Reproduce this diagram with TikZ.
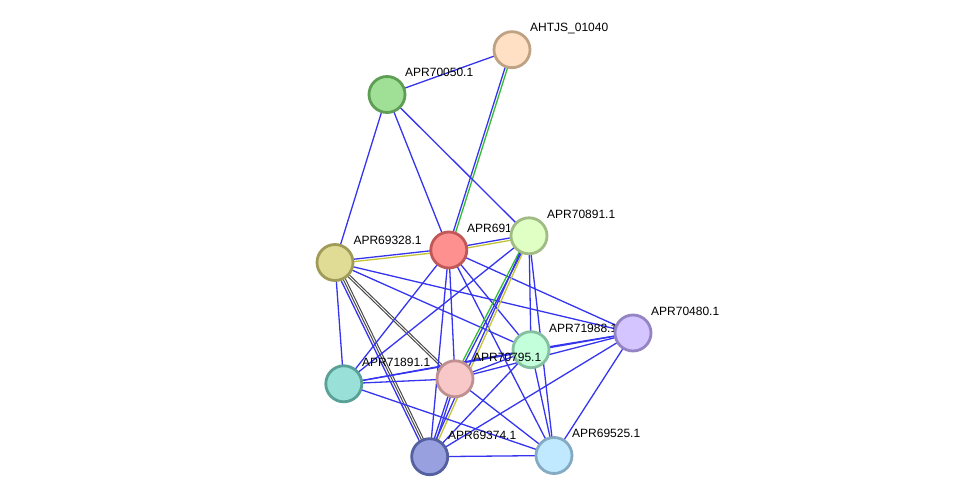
\documentclass[tikz,border=0pt]{standalone}
\usepackage{fontspec}
\setmainfont{Liberation Sans}
\usetikzlibrary{calc}
\definecolor{eblue}{HTML}{3535F0}
\definecolor{egreen}{HTML}{33BB33}
\definecolor{eyellow}{HTML}{C4C434}
\definecolor{edark}{HTML}{4A4A4A}
\definecolor{f70050}{HTML}{A0E096}\definecolor{b70050}{HTML}{5E9E54}
\definecolor{fAHTJS}{HTML}{FFE0C4}\definecolor{bAHTJS}{HTML}{BFA284}
\definecolor{f69328}{HTML}{E0DC96}\definecolor{b69328}{HTML}{A09C58}
\definecolor{f691}{HTML}{FF9090}\definecolor{b691}{HTML}{C05858}
\definecolor{f70891}{HTML}{E0FFC4}\definecolor{b70891}{HTML}{A0BC84}
\definecolor{f71988}{HTML}{C4FFDC}\definecolor{b71988}{HTML}{84C0A0}
\definecolor{f70480}{HTML}{D4C4FF}\definecolor{b70480}{HTML}{9484C4}
\definecolor{f71891}{HTML}{98E0D8}\definecolor{b71891}{HTML}{58A098}
\definecolor{f70795}{HTML}{F8C8C8}\definecolor{b70795}{HTML}{C09090}
\definecolor{f69374}{HTML}{98A0E0}\definecolor{b69374}{HTML}{5460A0}
\definecolor{f69525}{HTML}{C0E8FF}\definecolor{b69525}{HTML}{84AAC4}
\pgfdeclarelayer{back}\pgfdeclarelayer{bg}\pgfsetlayers{back,bg,main}
\tikzset{
  prot/.style={circle,minimum size=36pt,inner sep=0pt,line width=2.8pt,fill=f#1,draw=b#1},
  lab/.style={anchor=base west,inner sep=0pt,font=\fontsize{12}{14}\selectfont},
  edge/.style={line width=1.3pt}
}
\newcommand\pedge[4]{\draw[edge,#4] ($(#1)!#3!90:(#2)$) -- ($(#2)!#3!-90:(#1)$);}
\begin{document}
\begin{tikzpicture}[x=1pt,y=-1pt]
\begin{pgfonlayer}{back}
\fill[white] (0,0) rectangle (975,502);
\end{pgfonlayer}
\useasboundingbox (0,0) rectangle (975,502);
% nodes (drawn in order, each followed by its label)
\node[prot=70050] (n70050) at (387,94.5) {};
\node[lab] (l70050) at (405,77) {APR70050.1};
\node[prot=AHTJS] (nAHTJS) at (512,49.7) {};
\node[lab] (lAHTJS) at (530,32) {AHTJS\_01040};
\node[prot=69328] (n69328) at (335,262.5) {};
\node[lab] (l69328) at (353.3,245) {APR69328.1};
\node[prot=691] (n691) at (448.8,250) {};
\node[lab] (l691) at (467,232.5) {APR691};
\node[prot=70891] (n70891) at (529,235.8) {};
\node[lab] (l70891) at (547,218.3) {APR70891.1};
\node[prot=71988] (n71988) at (531,349.7) {};
\node[lab] (l71988) at (549,332.2) {APR71988.1};
\node[prot=70480] (n70480) at (633,333) {};
\node[lab] (l70480) at (651,315.5) {APR70480.1};
\node[prot=71891] (n71891) at (343.8,383.8) {};
\node[lab] (l71891) at (362,366.3) {APR71891.1};
\node[prot=70795] (n70795) at (455,378.8) {};
\node[lab] (l70795) at (473,361.3) {APR70795.1};
\node[prot=69374] (n69374) at (429.7,456.7) {};
\node[lab] (l69374) at (448,439.2) {APR69374.1};
\node[prot=69525] (n69525) at (554,455.5) {};
\node[lab] (l69525) at (572,438) {APR69525.1};
% edges behind the nodes
\begin{pgfonlayer}{bg}
\pedge{nAHTJS}{n70050}{0pt}{eblue}
\pedge{nAHTJS}{n691}{-1.2pt}{eblue}
\pedge{nAHTJS}{n691}{1.2pt}{egreen}
\pedge{n70050}{n69328}{0pt}{eblue}
\pedge{n70050}{n691}{0pt}{eblue}
\pedge{n70050}{n70891}{0pt}{eblue}
\pedge{n69328}{n691}{1.2pt}{eblue}
\pedge{n69328}{n691}{-1.2pt}{eyellow}
\pedge{n691}{n70891}{1.2pt}{eblue}
\pedge{n691}{n70891}{-1.2pt}{eyellow}
\pedge{n69328}{n71891}{0pt}{eblue}
\pedge{n69328}{n69374}{-2.4pt}{eblue}
\pedge{n69328}{n69374}{0pt}{edark,line width=1pt}
\pedge{n69328}{n69374}{2.2pt}{edark,line width=1pt}
\pedge{n69328}{n70795}{-1.1pt}{edark,line width=1pt}
\pedge{n69328}{n70795}{1.1pt}{edark,line width=1pt}
\pedge{n69328}{n71988}{0pt}{eblue}
\pedge{n69328}{n70480}{0pt}{eblue}
\pedge{n691}{n71891}{0pt}{eblue}
\pedge{n691}{n70795}{0pt}{eblue}
\pedge{n691}{n69374}{0pt}{eblue}
\pedge{n691}{n71988}{0pt}{eblue}
\pedge{n691}{n69525}{0pt}{eblue}
\pedge{n691}{n70480}{0pt}{eblue}
\pedge{n70891}{n70795}{-1.2pt}{egreen}
\pedge{n70891}{n70795}{1.2pt}{eblue}
\pedge{n70891}{n69374}{-1.2pt}{eblue}
\pedge{n70891}{n69374}{1.2pt}{eyellow}
\pedge{n70891}{n71891}{0pt}{eblue}
\pedge{n70891}{n71988}{0pt}{eblue}
\pedge{n70891}{n69525}{0pt}{eblue}
\pedge{n71988}{n70480}{0pt}{eblue}
\pedge{n71988}{n70795}{0pt}{eblue}
\pedge{n71988}{n71891}{0pt}{eblue}
\pedge{n71988}{n69374}{0pt}{eblue}
\pedge{n71988}{n69525}{0pt}{eblue}
\pedge{n70480}{n70795}{0pt}{eblue}
\pedge{n70480}{n71891}{0pt}{eblue}
\pedge{n70480}{n69374}{0pt}{eblue}
\pedge{n70480}{n69525}{0pt}{eblue}
\pedge{n70795}{n71891}{0pt}{eblue}
\pedge{n70795}{n69374}{-1.2pt}{eblue}
\pedge{n70795}{n69374}{1.2pt}{eblue}
\pedge{n70795}{n69525}{0pt}{eblue}
\pedge{n71891}{n69525}{0pt}{eblue}
\pedge{n69374}{n69525}{0pt}{eblue}
\end{pgfonlayer}
\end{tikzpicture}
\end{document}
